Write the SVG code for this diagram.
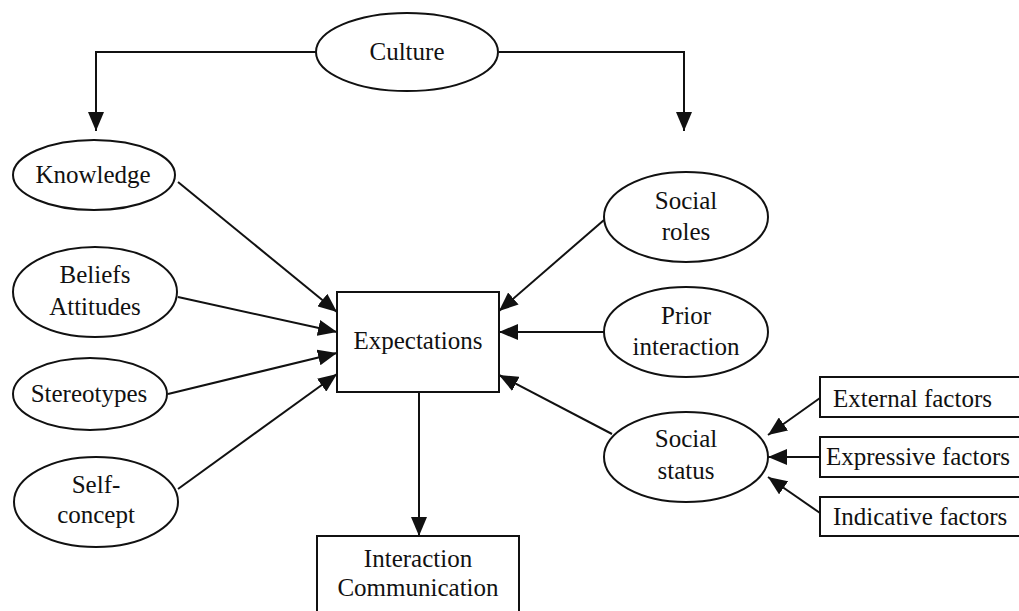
<svg xmlns="http://www.w3.org/2000/svg" width="1019" height="611" viewBox="0 0 1019 611">
  <style>
    .shape { fill: #fff; stroke: #111; stroke-width: 2; }
    .edge { fill: none; stroke: #111; stroke-width: 2; }
    .c { text-anchor: middle; }
  </style>
  <defs>
    <marker id="arrow" markerUnits="userSpaceOnUse" markerWidth="20" markerHeight="16" refX="19" refY="8" orient="auto">
      <path d="M0,0 L19,8 L0,16 Z" fill="#111"/>
    </marker>
  </defs>
  <rect width="1019" height="611" fill="#fff"/>

  <g id="connectors">
    <path class="edge" d="M316,52 H96 V131" marker-end="url(#arrow)"/>
    <path class="edge" d="M499,52 H684 V131" marker-end="url(#arrow)"/>
    <line class="edge" x1="178" y1="182" x2="337" y2="312" marker-end="url(#arrow)"/>
    <line class="edge" x1="178" y1="297" x2="337" y2="332" marker-end="url(#arrow)"/>
    <line class="edge" x1="168" y1="394" x2="337" y2="353" marker-end="url(#arrow)"/>
    <line class="edge" x1="178" y1="489" x2="337" y2="374" marker-end="url(#arrow)"/>
    <line class="edge" x1="604" y1="220" x2="499" y2="311" marker-end="url(#arrow)"/>
    <line class="edge" x1="604" y1="332" x2="499" y2="332" marker-end="url(#arrow)"/>
    <line class="edge" x1="612" y1="434" x2="499" y2="375" marker-end="url(#arrow)"/>
    <line class="edge" x1="419" y1="392" x2="419" y2="536" marker-end="url(#arrow)"/>
    <line class="edge" x1="820" y1="398" x2="768" y2="435" marker-end="url(#arrow)"/>
    <line class="edge" x1="820" y1="457" x2="768" y2="457" marker-end="url(#arrow)"/>
    <line class="edge" x1="820" y1="513" x2="768" y2="477" marker-end="url(#arrow)"/>
  </g>

  <g font-family="'Liberation Serif', 'DejaVu Serif', serif" font-size="25" fill="#111">
  <g id="culture">
    <ellipse class="shape" cx="407" cy="52" rx="91" ry="39"/>
    <text class="c" x="407" y="60">Culture</text>
  </g>
  <g id="knowledge">
    <ellipse class="shape" cx="94" cy="175" rx="81" ry="35"/>
    <text class="c" x="93" y="183">Knowledge</text>
  </g>
  <g id="beliefs-attitudes">
    <ellipse class="shape" cx="95" cy="292" rx="82" ry="45"/>
    <text class="c" x="95" y="283">Beliefs</text>
    <text class="c" x="95" y="315">Attitudes</text>
  </g>
  <g id="stereotypes">
    <ellipse class="shape" cx="90" cy="394" rx="77" ry="36"/>
    <text class="c" x="89" y="402">Stereotypes</text>
  </g>
  <g id="self-concept">
    <ellipse class="shape" cx="96" cy="502" rx="82" ry="45"/>
    <text class="c" x="96" y="493">Self-</text>
    <text class="c" x="96" y="523">concept</text>
  </g>
  <g id="expectations">
    <rect class="shape" x="337" y="292" width="162" height="100"/>
    <text class="c" x="418" y="349">Expectations</text>
  </g>
  <g id="interaction-communication">
    <rect class="shape" x="317" y="536" width="202" height="90"/>
    <text class="c" x="418" y="567">Interaction</text>
    <text class="c" x="418" y="596">Communication</text>
  </g>
  <g id="social-roles">
    <ellipse class="shape" cx="686" cy="217" rx="82" ry="45"/>
    <text class="c" x="686" y="209">Social</text>
    <text class="c" x="686" y="240">roles</text>
  </g>
  <g id="prior-interaction">
    <ellipse class="shape" cx="686" cy="332" rx="82" ry="45"/>
    <text class="c" x="686" y="324">Prior</text>
    <text class="c" x="686" y="355">interaction</text>
  </g>
  <g id="social-status">
    <ellipse class="shape" cx="686" cy="457" rx="82" ry="45"/>
    <text class="c" x="686" y="447">Social</text>
    <text class="c" x="686" y="479">status</text>
  </g>
  <g id="external-factors">
    <rect class="shape" x="820" y="377" width="210" height="40"/>
    <text x="833" y="407">External factors</text>
  </g>
  <g id="expressive-factors">
    <rect class="shape" x="820" y="437" width="210" height="40"/>
    <text x="826" y="465">Expressive factors</text>
  </g>
  <g id="indicative-factors">
    <rect class="shape" x="820" y="497" width="210" height="39"/>
    <text x="833" y="525">Indicative factors</text>
  </g>
  </g>
</svg>
